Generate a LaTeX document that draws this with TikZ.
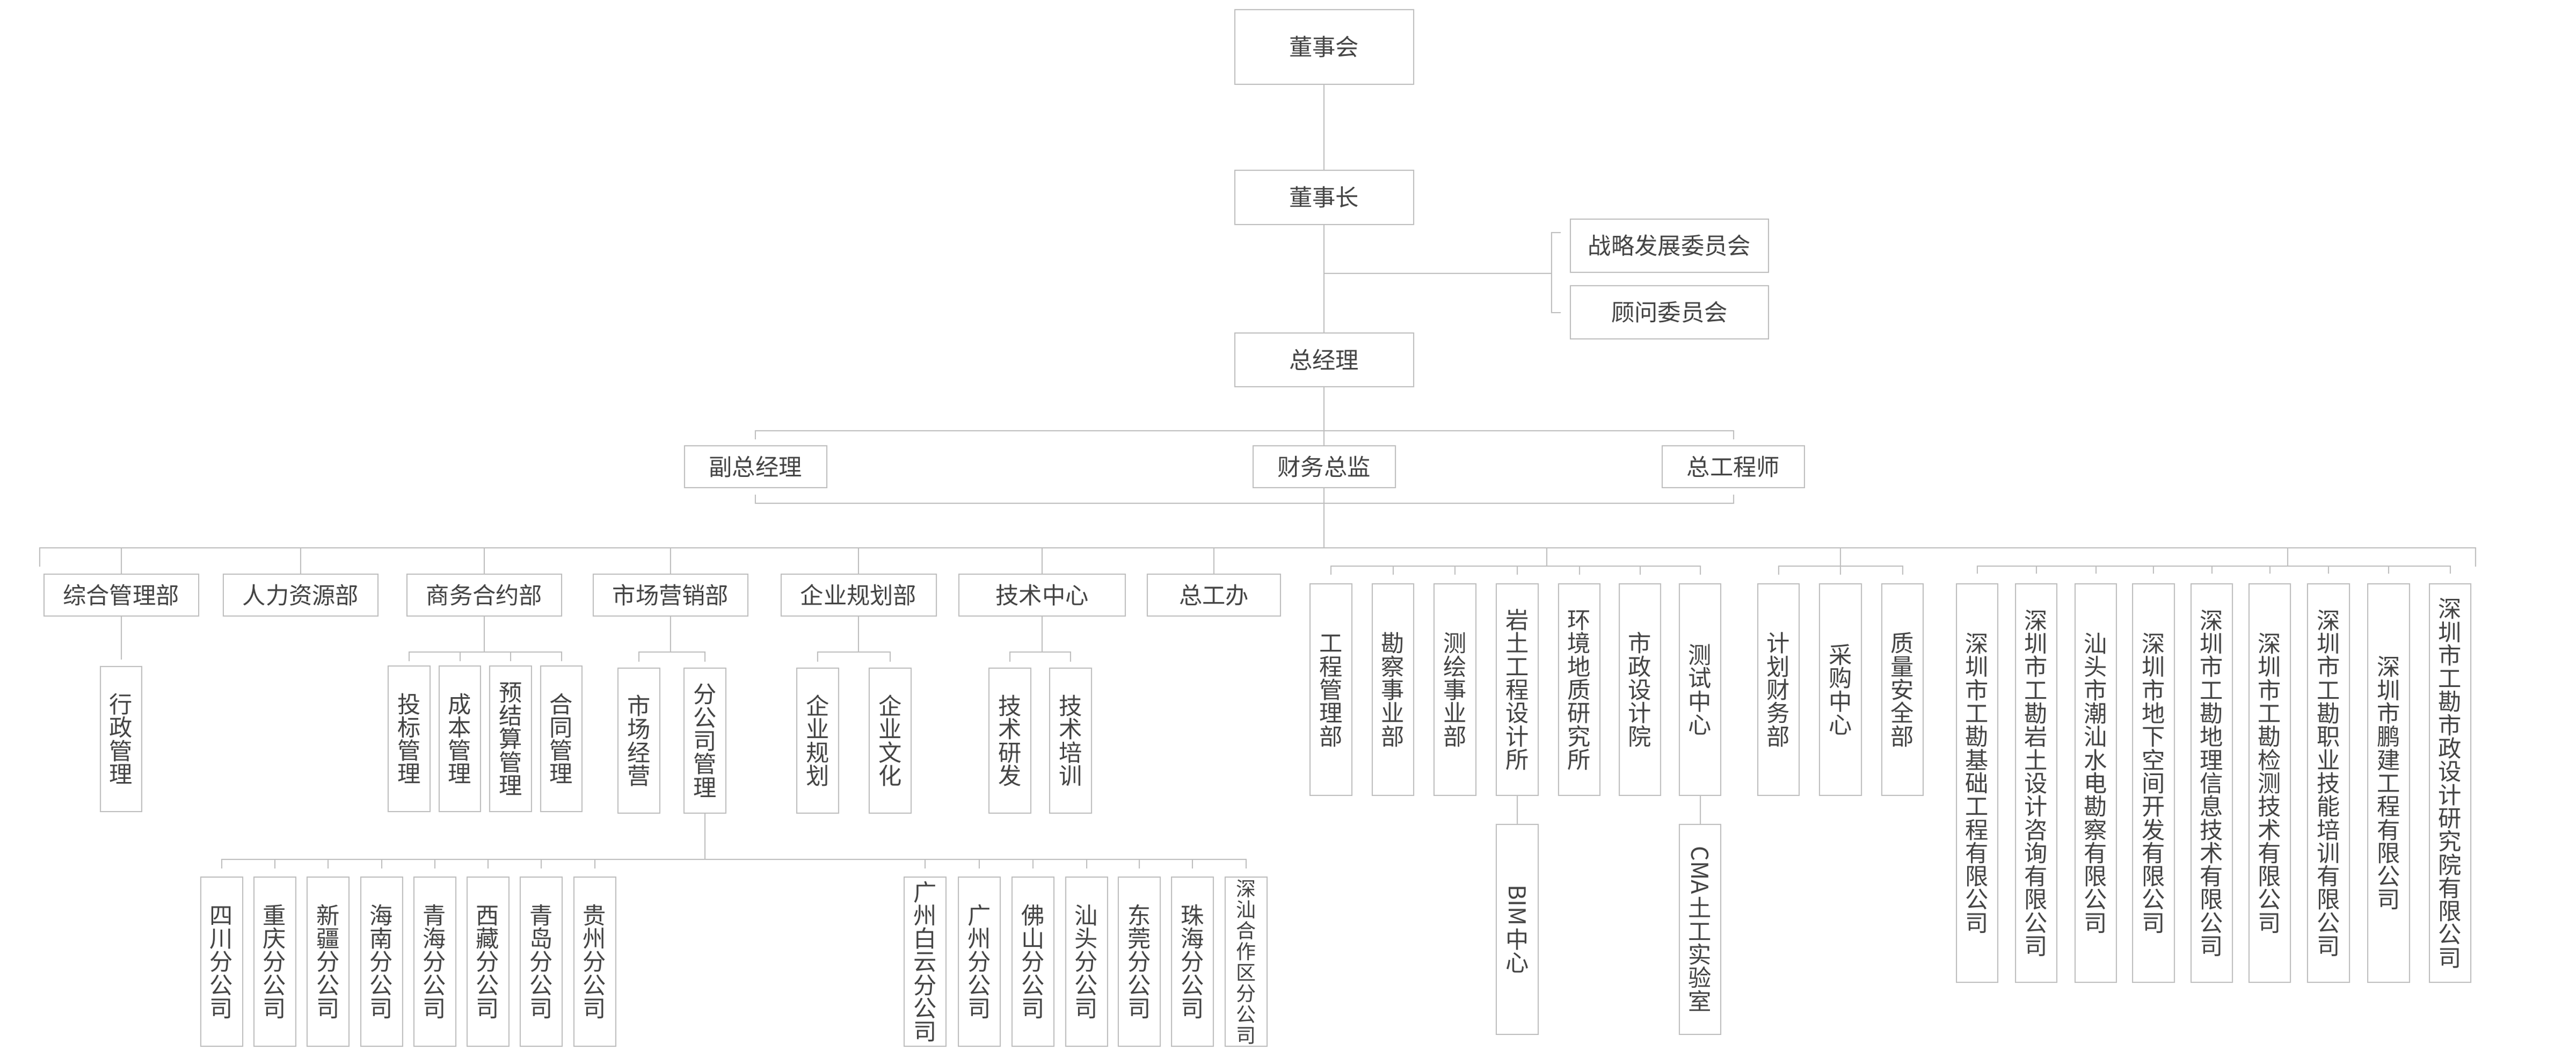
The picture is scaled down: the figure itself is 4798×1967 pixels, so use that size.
\documentclass[tikz,border=0pt]{standalone}
\usepackage{fontspec}
\usepackage{graphicx}
\newfontfamily\cn{Noto Sans CJK SC}
\definecolor{lg}{HTML}{BEBEBE}
\definecolor{tg}{HTML}{444444}
\newlength\vsp
\setlength\vsp{21.65pt}
\makeatletter
\def\vst#1{\edef\vs@l{#1}\expandafter\vst@\expandafter{\vs@l}}
\def\vst@#1{\vbox{\offinterlineskip\@tfor\vs@c:=#1\do{\hbox to\vsp{\hss\vrule width0pt height0.88\vsp depth0.12\vsp\vs@c\hss}}}}
\makeatother
\newcommand\vrotl[1]{\hbox to\vsp{\hss\rotatebox{-90}{#1}\hss}}
\begin{document}
\begin{tikzpicture}[x=0.5pt,y=-0.5pt,
  box/.style={draw=lg,line width=1pt,fill=white,text=tg,inner sep=0pt,font=\cn\fontsize{21.65pt}{21.65pt}\selectfont},
  sz/.style 2 args={minimum width=#1*0.5pt,minimum height=#2*0.5pt},
  conn/.style={draw=lg,line width=1pt,line cap=rect}]
\fill[white] (0,0) rectangle (4798,1967);
\useasboundingbox (0,0) rectangle (4798,1967);

% top levels
\node[box,sz={333}{139}] (board) at (2466,87.5) {董事会};
\node[box,sz={333}{101}] (chair) at (2466,367.5) {董事长};
\node[box,sz={333}{100}] (gm) at (2466,670) {总经理};
\node[box,sz={369}{99}] (com1) at (3109.5,457.5) {战略发展委员会};
\node[box,sz={369}{99}] (com2) at (3109.5,581.5) {顾问委员会};
\node[box,sz={265}{78}] (vp) at (1407,869) {副总经理};
\node[box,sz={265}{78}] (cfo) at (2466,869) {财务总监};
\node[box,sz={265}{78}] (ce) at (3228.5,869) {总工程师};

% departments
\node[box,sz={288}{78}] (d1) at (225.5,1108) {综合管理部};
\node[box,sz={288}{78}] (d2) at (560,1108) {人力资源部};
\node[box,sz={288}{78}] (d3) at (902,1108) {商务合约部};
\node[box,sz={288}{78}] (d4) at (1249,1108) {市场营销部};
\node[box,sz={289}{78}] (d5) at (1599,1108) {企业规划部};
\node[box,sz={310}{78}] (d6) at (1941,1108) {技术中心};
\node[box,sz={248}{78}] (d7) at (2261,1108) {总工办};

% sub units
\node[box,sz={77.5}{270}] (s1) at (225.5,1376) {\vst{行政管理}};
\foreach \nm/\xx/\tx in {c31/762/投标管理,c32/856.5/成本管理,c33/951/预结算管理,c34/1045.5/合同管理}
  \node[box,sz={77.5}{271}] (\nm) at (\xx,1375.5) {\vst{\tx}};
\foreach \nm/\xx/\tx in {c41/1190/市场经营,c42/1313/分公司管理,c51/1523/企业规划,c52/1658/企业文化,c61/1881/技术研发,c62/1994/技术培训}
  \node[box,sz={77.5}{270}] (\nm) at (\xx,1379) {\vst{\tx}};

% right departments
\foreach \nm/\xx/\tx in {e1/2479/工程管理部,e2/2594.5/勘察事业部,e3/2710/测绘事业部,e4/2826/岩土工程设计所,e5/2941.5/环境地质研究所,e6/3054.5/市政设计院,e7/3166.5/测试中心,f1/3312.5/计划财务部,f2/3428/采购中心,f3/3543.5/质量安全部}
  \node[box,sz={77.5}{394}] (\nm) at (\xx,1284) {\vst{\tx}};

% companies
\foreach \nm/\xx/\tx in {g1/3682.6/深圳市工勘基础工程有限公司,g2/3792.5/深圳市工勘岩土设计咨询有限公司,g3/3903.5/汕头市潮汕水电勘察有限公司,g4/4011/深圳市地下空间开发有限公司,g5/4119.5/深圳市工勘地理信息技术有限公司,g6/4227.5/深圳市工勘检测技术有限公司,g7/4337/深圳市工勘职业技能培训有限公司,g8/4448.7/深圳市鹏建工程有限公司,g9/4563.5/深圳市工勘市政设计研究院有限公司}
  \node[box,sz={77.5}{742.5}] (\nm) at (\xx,1458) {\vst{\tx}};

% BIM / CMA
\node[box,sz={77.5}{391}] (h1) at (2826,1730.5) {\vbox{\offinterlineskip\vrotl{BIM}\kern2pt\vst{中心}}};
\node[box,sz={77.5}{391}] (h2) at (3166.5,1730.5) {\vbox{\offinterlineskip\vrotl{CMA}\kern2pt\vst{土工实验室}}};

% branches
\foreach \nm/\xx/\tx in {k1/412.6/四川分公司,k2/511.5/重庆分公司,k3/611/新疆分公司,k4/710.5/海南分公司,k5/809.5/青海分公司,k6/908.5/西藏分公司,k7/1008/青岛分公司,k8/1107.5/贵州分公司,m1/1723/广州白云分公司,m2/1824/广州分公司,m3/1924/佛山分公司,m4/2023.5/汕头分公司,m5/2122/东莞分公司,m6/2221/珠海分公司}
  \node[box,sz={78}{315}] (\nm) at (\xx,1790.5) {\vst{\tx}};
\node[box,sz={78}{315}] (m7) at (2320.5,1790.5) {\fontsize{18.5pt}{19.5pt}\selectfont\setlength\vsp{19.5pt}\vst{深汕合作区分公司}};

% ---- connectors ----
\draw[conn] (board.south) -- (chair.north);
\draw[conn] (chair.south) -- (gm.north);
\coordinate (cj) at (2466,509);
\coordinate (cb) at (2889.5,509);
\coordinate (cbt) at (2889.5,433);
\coordinate (cbb) at (2889.5,582);
\coordinate (cbt2) at (2906,433);
\coordinate (cbb2) at (2906,582);
\draw[conn] (cj) -- (cb);
\draw[conn] (cbt2) -- (cbt) -- (cbb) -- (cbb2);

\draw[conn] (gm.south) -- (cfo.north);
\coordinate (tb) at (2466,802);
\draw[conn] ([yshift=6pt]vp.north) -- (vp.north |- tb) -- (ce.north |- tb) -- ([yshift=6pt]ce.north);
\coordinate (bb) at (2466,937);
\draw[conn] ([yshift=-6.5pt]vp.south) -- (vp.south |- bb) -- (ce.south |- bb) -- ([yshift=-6.5pt]ce.south);

\coordinate (mainj) at (2466,1020);
\draw[conn] (cfo.south) -- (mainj);
\coordinate (mLt) at (73.5,1020);
\coordinate (mL) at (73.5,1053.6);
\coordinate (mRt) at (4611,1020);
\coordinate (mR) at (4611,1053.6);
\draw[conn] (mL) -- (mLt) -- (mRt) -- (mR);
\foreach \i in {1,...,7} \draw[conn] (d\i.north |- mainj) -- (d\i.north);

% dept children
\draw[conn] (d1.south) -- ([yshift=6.5pt]s1.north);
\coordinate (b3) at (902,1214);
\draw[conn] (d3.south) -- (b3);
\draw[conn] (c31.north |- b3) -- (c34.north |- b3);
\foreach \n in {c31,c32,c33,c34} \draw[conn] (\n.north |- b3) -- ([yshift=4.5pt]\n.north);
\coordinate (b4) at (1249,1214);
\draw[conn] (d4.south) -- (b4);
\draw[conn] (c41.north |- b4) -- (c42.north |- b4);
\foreach \n in {c41,c42} \draw[conn] (\n.north |- b4) -- ([yshift=6pt]\n.north);
\coordinate (b5) at (1599,1214);
\draw[conn] (d5.south) -- (b5);
\draw[conn] (c51.north |- b5) -- (c52.north |- b5);
\foreach \n in {c51,c52} \draw[conn] (\n.north |- b5) -- ([yshift=6pt]\n.north);
\coordinate (b6) at (1941,1214);
\draw[conn] (d6.south) -- (b6);
\draw[conn] (c61.north |- b6) -- (c62.north |- b6);
\foreach \n in {c61,c62} \draw[conn] (\n.north |- b6) -- ([yshift=6pt]\n.north);

% right groups
\coordinate (gA) at (2880.6,1053.6);
\draw[conn] (gA |- mainj) -- (gA);
\draw[conn] (e1.north |- gA) -- (e7.north |- gA);
\foreach \i in {1,...,7} \draw[conn] (e\i.north |- gA) -- ([yshift=8.75pt]e\i.north);
\coordinate (gB) at (3428,1053.6);
\draw[conn] (gB |- mainj) -- (gB);
\draw[conn] (f1.north |- gB) -- (f3.north |- gB);
\foreach \i in {1,...,3} \draw[conn] (f\i.north |- gB) -- ([yshift=8.75pt]f\i.north);
\coordinate (gC) at (4261,1053.6);
\draw[conn] (gC |- mainj) -- (gC);
\draw[conn] (g1.north |- gC) -- (g9.north |- gC);
\foreach \i in {1,...,9} \draw[conn] (g\i.north |- gC) -- ([yshift=9.5pt]g\i.north);

\draw[conn] (e4.south) -- (h1.north);
\draw[conn] (e7.south) -- (h2.north);

% branches
\coordinate (bl) at (1313,1600);
\draw[conn] (c42.south) -- (bl);
\draw[conn] (k1.north |- bl) -- (m7.north |- bl);
\foreach \i in {1,...,8} \draw[conn] (k\i.north |- bl) -- ([yshift=8pt]k\i.north);
\foreach \i in {1,...,7} \draw[conn] (m\i.north |- bl) -- ([yshift=8pt]m\i.north);
\end{tikzpicture}
\end{document}
